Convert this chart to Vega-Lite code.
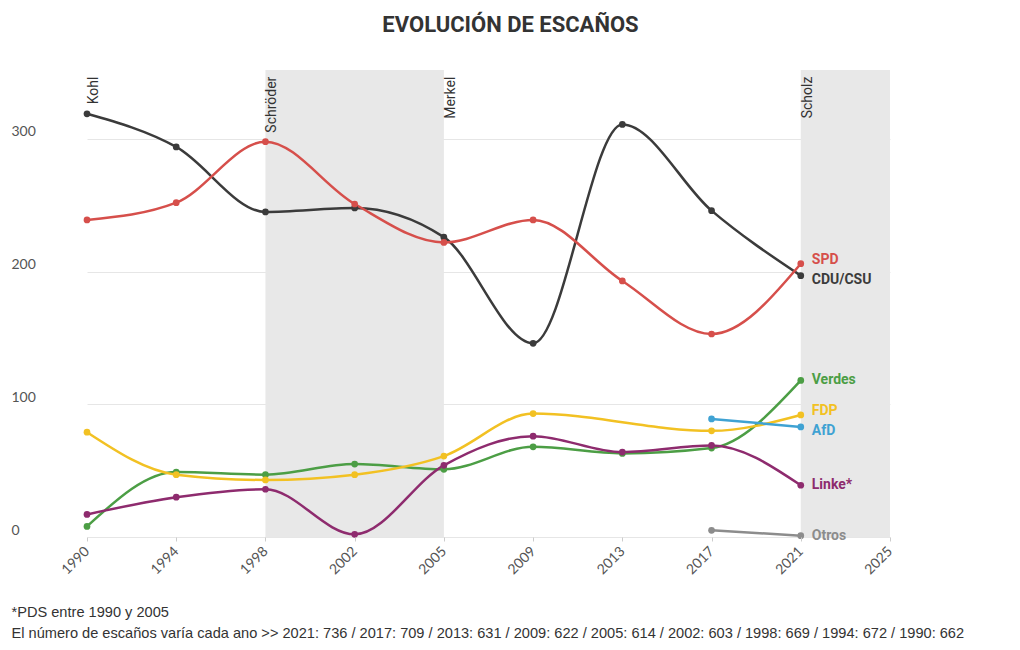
{
  "$schema": "https://vega.github.io/schema/vega-lite/v6.json",
  "width": 925,
  "height": 467,
  "autosize": {"type": "none"},
  "padding": {"left": 10, "top": 70, "right": 85, "bottom": 113},
  "background": "white",
  "title": {
    "text": "EVOLUCIÓN DE ESCAÑOS",
    "font": "Roboto",
    "fontSize": 22,
    "fontWeight": "bold",
    "color": "#333333",
    "anchor": "middle",
    "frame": "group",
    "dx": 38,
    "baseline": "alphabetic",
    "offset": 16
  },
  "config": {
    "view": {"stroke": null},
    "axis": {"labelFont": "Lato", "labelColor": "#555555", "labelFontSize": 14}
  },
  "datasets": {
    "seats": [
      {"year": "1990", "party": "CDU/CSU", "seats": 319},
      {"year": "1994", "party": "CDU/CSU", "seats": 294},
      {"year": "1998", "party": "CDU/CSU", "seats": 245},
      {"year": "2002", "party": "CDU/CSU", "seats": 248},
      {"year": "2005", "party": "CDU/CSU", "seats": 226},
      {"year": "2009", "party": "CDU/CSU", "seats": 146},
      {"year": "2013", "party": "CDU/CSU", "seats": 311},
      {"year": "2017", "party": "CDU/CSU", "seats": 246},
      {"year": "2021", "party": "CDU/CSU", "seats": 197},
      {"year": "1990", "party": "SPD", "seats": 239},
      {"year": "1994", "party": "SPD", "seats": 252},
      {"year": "1998", "party": "SPD", "seats": 298},
      {"year": "2002", "party": "SPD", "seats": 251},
      {"year": "2005", "party": "SPD", "seats": 222},
      {"year": "2009", "party": "SPD", "seats": 239},
      {"year": "2013", "party": "SPD", "seats": 193},
      {"year": "2017", "party": "SPD", "seats": 153},
      {"year": "2021", "party": "SPD", "seats": 206},
      {"year": "1990", "party": "Verdes", "seats": 8},
      {"year": "1994", "party": "Verdes", "seats": 49},
      {"year": "1998", "party": "Verdes", "seats": 47},
      {"year": "2002", "party": "Verdes", "seats": 55},
      {"year": "2005", "party": "Verdes", "seats": 51},
      {"year": "2009", "party": "Verdes", "seats": 68},
      {"year": "2013", "party": "Verdes", "seats": 63},
      {"year": "2017", "party": "Verdes", "seats": 67},
      {"year": "2021", "party": "Verdes", "seats": 118},
      {"year": "1990", "party": "FDP", "seats": 79},
      {"year": "1994", "party": "FDP", "seats": 47},
      {"year": "1998", "party": "FDP", "seats": 43},
      {"year": "2002", "party": "FDP", "seats": 47},
      {"year": "2005", "party": "FDP", "seats": 61},
      {"year": "2009", "party": "FDP", "seats": 93},
      {"year": "2017", "party": "FDP", "seats": 80},
      {"year": "2021", "party": "FDP", "seats": 92},
      {"year": "2017", "party": "AfD", "seats": 89},
      {"year": "2021", "party": "AfD", "seats": 83},
      {"year": "1990", "party": "Linke*", "seats": 17},
      {"year": "1994", "party": "Linke*", "seats": 30},
      {"year": "1998", "party": "Linke*", "seats": 36},
      {"year": "2002", "party": "Linke*", "seats": 2},
      {"year": "2005", "party": "Linke*", "seats": 54},
      {"year": "2009", "party": "Linke*", "seats": 76},
      {"year": "2013", "party": "Linke*", "seats": 64},
      {"year": "2017", "party": "Linke*", "seats": 69},
      {"year": "2021", "party": "Linke*", "seats": 39},
      {"year": "2017", "party": "Otros", "seats": 5},
      {"year": "2021", "party": "Otros", "seats": 1}
    ],
    "periods": [
      {"start": "1998", "end": "2005"},
      {"start": "2021", "end": "2025"}
    ],
    "chancellors": [
      {"year": "1990", "name": "Kohl", "top": 347},
      {"year": "1998", "name": "Schröder", "top": 347},
      {"year": "2005", "name": "Merkel", "top": 347},
      {"year": "2021", "name": "Scholz", "top": 347}
    ]
  },
  "encoding": {
    "x": {
      "field": "year",
      "type": "ordinal",
      "scale": {
        "type": "point",
        "domain": ["1990", "1994", "1998", "2002", "2005", "2009", "2013", "2017", "2021", "2025"],
        "range": [77, 880],
        "padding": 0
      },
      "axis": {
        "title": ["*PDS entre 1990 y 2005", "El número de escaños varía cada ano >> 2021: 736 / 2017: 709 / 2013: 631 / 2009: 622 / 2005: 614 / 2002: 603 / 1998: 669 / 1994: 672 / 1990: 662"],
        "titleFont": "Liberation Sans",
        "titleFontSize": 14.6,
        "titleFontWeight": "normal",
        "titleColor": "#333333",
        "titleAlign": "left",
        "titleAnchor": "start",
        "titleBaseline": "alphabetic",
        "titleLineHeight": 21,
        "titleX": 1,
        "titleY": 79,
        "labelAngle": -45,
        "labelAlign": "right",
        "labelBaseline": "middle",
        "labelPadding": 8,
        "tickSize": 4,
        "tickColor": "#cccccc",
        "domain": false,
        "grid": false
      }
    }
  },
  "layer": [
    {
      "data": {"name": "periods"},
      "mark": {"type": "rect", "color": "#e8e8e8"},
      "encoding": {
        "x": {"field": "start", "type": "ordinal"},
        "x2": {"field": "end"}
      }
    },
    {
      "data": {"name": "seats"},
      "mark": {"type": "line", "interpolate": "monotone", "strokeWidth": 2.5},
      "encoding": {
        "y": {
          "field": "seats",
          "type": "quantitative",
          "scale": {"domain": [0, 352], "nice": false},
          "axis": {
            "title": null,
            "values": [0, 100, 200, 300],
            "grid": true,
            "gridColor": "#e6e6e6",
            "domain": false,
            "ticks": false,
            "tickSize": 0,
            "labelAlign": "left",
            "labelBaseline": "alphabetic",
            "labelPadding": -1,
            "labelOffset": -3
          }
        },
        "color": {
          "field": "party",
          "type": "nominal",
          "legend": null,
          "scale": {
            "domain": ["SPD", "CDU/CSU", "Verdes", "FDP", "AfD", "Linke*", "Otros"],
            "range": ["#d64f4b", "#3b3b3b", "#4c9e45", "#f2c123", "#3fa2d3", "#8e2b6e", "#8c8c8c"]
          }
        },
        "detail": {"field": "party"}
      }
    },
    {
      "data": {"name": "seats"},
      "mark": {"type": "circle", "size": 45, "opacity": 1},
      "encoding": {
        "y": {"field": "seats", "type": "quantitative"},
        "color": {"field": "party", "type": "nominal"}
      }
    },
    {
      "data": {"name": "seats"},
      "transform": [{"filter": "datum.year == '2021' && (datum.party == 'SPD' || datum.party == 'FDP')"}],
      "mark": {"type": "text", "align": "left", "baseline": "middle", "dx": 11, "dy": -4, "font": "Roboto", "fontSize": 14, "fontWeight": "bold"},
      "encoding": {
        "y": {"field": "seats", "type": "quantitative"},
        "text": {"field": "party"},
        "color": {"field": "party", "type": "nominal"}
      }
    },
    {
      "data": {"name": "seats"},
      "transform": [{"filter": "datum.year == '2021' && (datum.party == 'CDU/CSU' || datum.party == 'AfD')"}],
      "mark": {"type": "text", "align": "left", "baseline": "middle", "dx": 11, "dy": 4, "font": "Roboto", "fontSize": 14, "fontWeight": "bold"},
      "encoding": {
        "y": {"field": "seats", "type": "quantitative"},
        "text": {"field": "party"},
        "color": {"field": "party", "type": "nominal"}
      }
    },
    {
      "data": {"name": "seats"},
      "transform": [{"filter": "datum.year == '2021' && datum.party != 'SPD' && datum.party != 'FDP' && datum.party != 'CDU/CSU' && datum.party != 'AfD'"}],
      "mark": {"type": "text", "align": "left", "baseline": "middle", "dx": 11, "font": "Roboto", "fontSize": 14, "fontWeight": "bold"},
      "encoding": {
        "y": {"field": "seats", "type": "quantitative"},
        "text": {"field": "party"},
        "color": {"field": "party", "type": "nominal"}
      }
    },
    {
      "data": {"name": "chancellors"},
      "mark": {"type": "text", "angle": 270, "align": "right", "baseline": "top", "font": "Roboto", "fontSize": 14, "color": "#333333"},
      "encoding": {
        "y": {"field": "top", "type": "quantitative"},
        "text": {"field": "name"}
      }
    }
  ]
}
